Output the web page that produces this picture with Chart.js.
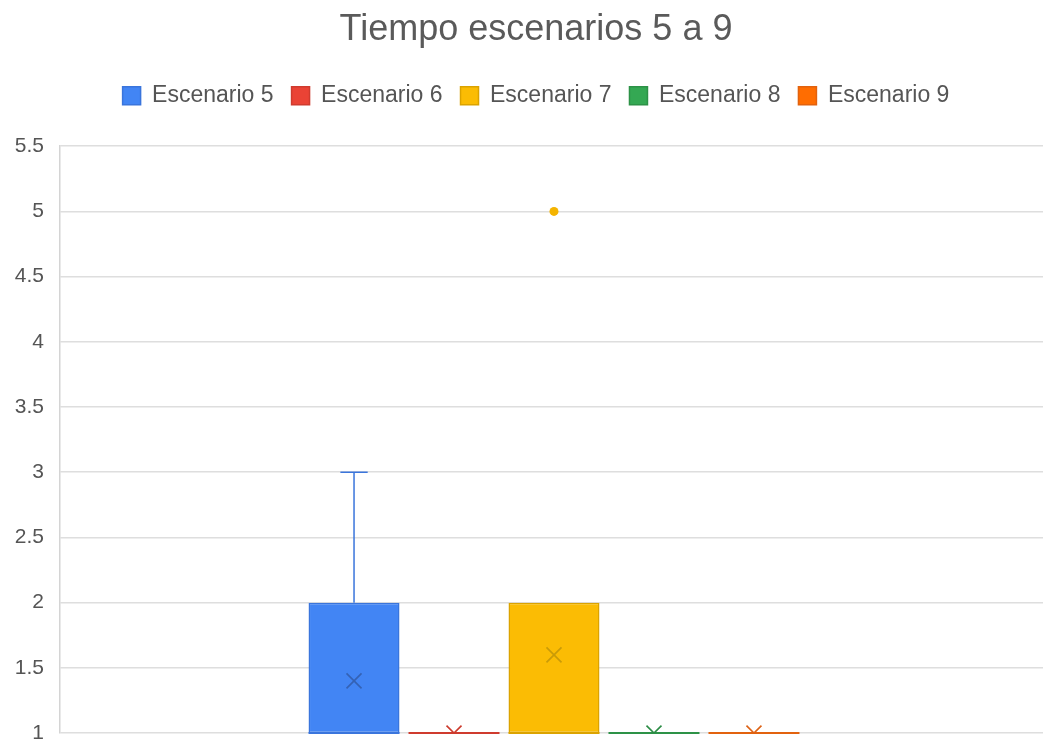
<!DOCTYPE html>
<html>
<head>
<meta charset="utf-8">
<script src="https://cdn.jsdelivr.net/npm/chart.js@4/dist/chart.umd.min.js"></script>
<style>
    html, body { margin: 0; padding: 0; overflow: hidden; background: #fff; }
    #wrap { width: 1072px; height: 742px; }
</style>
</head>
<body>
<div id="wrap"><canvas id="boxChart" width="1072" height="742"></canvas></div>
<script>
// Box plot: one box per scenario
const scenarios = ['Escenario 5', 'Escenario 6', 'Escenario 7', 'Escenario 8', 'Escenario 9'];
const q1 = [1, 1, 1, 1, 1];
const q3 = [2, 1, 2, 1, 1];
const medians = [1, 1, 1, 1, 1];
const whiskerLow = [1, 1, 1, 1, 1];
const whiskerHigh = [3, 1, 2, 1, 1];
const means = [1.4, 1, 1.6, 1, 1];
const outliers = [[], [], [5], [], []];
const yMin = 1, yMax = 5.5, yStep = 0.5;

const fillColors = ['#4285f4', '#ea4335', '#fbbc04', '#34a853', '#ff6d01'];
const lineColors = ['#3a75dc', '#cf3b2e', '#dba300', '#2d9247', '#e2620e'];
const markColors = ['#3462b4', '#cc3a2c', '#c99a08', '#2b8c45', '#dd6215'];
const FONT = '"Liberation Sans", Arial, sans-serif';

// whiskers, median lines, mean crosses and outlier dots
const boxExtras = {
    id: 'boxExtras',
    afterDatasetsDraw(chart) {
        const ctx = chart.ctx;
        const y = chart.scales.y;
        const area = chart.chartArea;
        scenarios.forEach((name, i) => {
            const bar = chart.getDatasetMeta(i).data[0];
            const cx = bar.x, half = bar.width / 2;
            ctx.save();
            ctx.strokeStyle = lineColors[i];
            ctx.lineWidth = 1.5;
            if (whiskerHigh[i] > q3[i]) {
                ctx.beginPath();
                ctx.moveTo(cx, y.getPixelForValue(q3[i]));
                ctx.lineTo(cx, y.getPixelForValue(whiskerHigh[i]));
                ctx.moveTo(cx - half * 0.3, y.getPixelForValue(whiskerHigh[i]));
                ctx.lineTo(cx + half * 0.3, y.getPixelForValue(whiskerHigh[i]));
                ctx.stroke();
            }
            if (whiskerLow[i] < q1[i]) {
                ctx.beginPath();
                ctx.moveTo(cx, y.getPixelForValue(q1[i]));
                ctx.lineTo(cx, y.getPixelForValue(whiskerLow[i]));
                ctx.moveTo(cx - half * 0.3, y.getPixelForValue(whiskerLow[i]));
                ctx.lineTo(cx + half * 0.3, y.getPixelForValue(whiskerLow[i]));
                ctx.stroke();
            }
            // median
            ctx.lineWidth = 2;
            ctx.beginPath();
            ctx.moveTo(cx - half, y.getPixelForValue(medians[i]));
            ctx.lineTo(cx + half, y.getPixelForValue(medians[i]));
            ctx.stroke();

            // mean cross, clipped to plot area
            ctx.save();
            ctx.beginPath();
            ctx.rect(area.left, area.top, area.right - area.left, area.bottom - area.top);
            ctx.clip();
            const my = y.getPixelForValue(means[i]);
            const s = 7.5;
            ctx.strokeStyle = markColors[i];
            ctx.lineWidth = 1.6;
            ctx.beginPath();
            ctx.moveTo(cx - s, my - s); ctx.lineTo(cx + s, my + s);
            ctx.moveTo(cx + s, my - s); ctx.lineTo(cx - s, my + s);
            ctx.stroke();
            ctx.restore();

            // outliers
            ctx.fillStyle = i === 2 ? '#f4b400' : fillColors[i];
            outliers[i].forEach(v => {
                ctx.beginPath();
                ctx.arc(cx, y.getPixelForValue(v), 4.5, 0, Math.PI * 2);
                ctx.fill();
            });
            ctx.restore();
        });
    }
};

const datasets = scenarios.map((name, i) => ({
    label: name,
    data: [[q1[i], q3[i]]],
    backgroundColor: fillColors[i],
    borderColor: lineColors[i],
    borderWidth: 1.5,
    borderSkipped: false,
    categoryPercentage: 0.506,
    barPercentage: 0.91
}));

new Chart(document.getElementById('boxChart').getContext('2d'), {
    type: 'bar',
    data: { labels: [''], datasets },
    options: {
        responsive: false,
        animation: false,
        layout: { padding: 0 },
        plugins: {
            title: {
                display: true,
                text: 'Tiempo escenarios 5 a 9',
                color: '#5a5a5a',
                font: { family: FONT, size: 36, weight: 'normal', lineHeight: 1.2 },
                padding: { top: 8, bottom: 15 }
            },
            legend: {
                display: true,
                position: 'top',
                labels: {
                    color: '#555',
                    font: { family: FONT, size: 23 },
                    boxWidth: 18,
                    boxHeight: 18,
                    padding: 18
                }
            },
            subtitle: {
                // spacer between legend and plot
                display: true,
                text: '',
                weight: 500,
                font: { size: 10, lineHeight: 1 },
                padding: { top: 19, bottom: 0 }
            },
            tooltip: { enabled: false }
        },
        scales: {
            x: { display: false },
            y: {
                min: yMin,
                max: yMax,
                afterFit(scale) { scale.width = 60; },
                ticks: {
                    stepSize: yStep,
                    padding: 0,
                    color: '#555',
                    font: { family: FONT, size: 21, lineHeight: 0.85 },
                    callback: v => String(Math.round(v * 10) / 10)
                },
                grid: {
                    color: '#dedede',
                    lineWidth: 1.5,
                    drawTicks: true,
                    tickLength: 16,
                    tickColor: 'rgba(0,0,0,0)'
                },
                border: { color: '#d4d4d4', width: 1.5 }
            },
            // empty right margin so the plot stops where the reference's does
            yRight: {
                type: 'linear',
                position: 'right',
                afterFit(scale) { scale.width = 24; },
                ticks: { display: false },
                grid: { display: false },
                border: { display: false }
            }
        }
    },
    plugins: [boxExtras]
});
</script>
</body>
</html>
